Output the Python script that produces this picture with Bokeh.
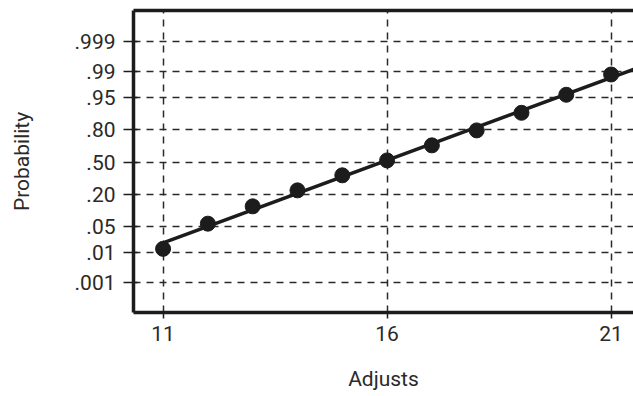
from statistics import NormalDist

import numpy as np
from bokeh.embed import file_html
from bokeh.models import FixedTicker, LinearAxis, Range1d
from bokeh.plotting import figure
from bokeh.resources import INLINE

# Observed adjust counts and their cumulative probabilities
adjusts = [11, 12, 13, 14, 15, 16, 17, 18, 19, 20, 21]
probability = [0.013, 0.057, 0.128, 0.234, 0.367, 0.517, 0.666, 0.792, 0.897, 0.958, 0.9877]

# Probability-scale ticks
prob_ticks = [0.001, 0.01, 0.05, 0.20, 0.50, 0.80, 0.95, 0.99, 0.999]
prob_labels = [".001", ".01", ".05", ".20", ".50", ".80", ".95", ".99", ".999"]
x_ticks = [11, 16, 21]

FONT = "Roboto"
INK = "#1c1c1c"
TEXT = "#2a2a2a"

nd = NormalDist()
z = [nd.inv_cdf(p) for p in probability]
z_ticks = [nd.inv_cdf(p) for p in prob_ticks]

x_start, x_end = 10.34, 21.5
p = figure(
    width=633, height=396,
    x_range=Range1d(x_start, x_end), y_range=Range1d(-3.86, 3.89),
    output_backend="svg", toolbar_location=None,
    min_border_left=133, min_border_right=0, min_border_top=10, min_border_bottom=84,
    outline_line_color=None, background_fill_color="white", border_fill_color="white",
)

# Axes
p.xaxis.ticker = FixedTicker(ticks=x_ticks)
p.yaxis.ticker = FixedTicker(ticks=z_ticks)
p.yaxis.major_label_overrides = {t: lab for t, lab in zip(z_ticks, prob_labels)}
p.xaxis.axis_label = "Adjusts"
p.yaxis.axis_label = "Probability"

for ax in (p.xaxis[0], p.yaxis[0]):
    ax.axis_line_width = 3.5
    ax.axis_line_color = INK
    ax.major_tick_line_color = INK
    ax.major_tick_line_width = 1.5
    ax.minor_tick_line_color = None
    ax.major_label_text_font = FONT
    ax.major_label_text_font_size = "21px"
    ax.major_label_text_color = TEXT
    ax.axis_label_text_font = FONT
    ax.axis_label_text_font_size = "21px"
    ax.axis_label_text_font_style = "normal"
    ax.axis_label_text_color = TEXT

p.yaxis.major_tick_out = 10
p.yaxis.major_tick_in = 4
p.yaxis.major_label_standoff = 8
p.yaxis.axis_label_standoff = 38
p.xaxis.major_tick_out = 6
p.xaxis.major_tick_in = 0
p.xaxis.major_label_standoff = 7
p.xaxis.axis_label_standoff = 23

top = LinearAxis(ticker=FixedTicker(ticks=[]), axis_line_width=3.5, axis_line_color=INK,
                 major_tick_line_color=None, minor_tick_line_color=None,
                 major_label_text_font_size="0px")
p.add_layout(top, "above")

# Dashed grid
for g in (p.xgrid[0], p.ygrid[0]):
    g.grid_line_color = "#2a2a2a"
    g.grid_line_width = 1.5
    g.grid_line_dash = "7 6"
p.xgrid.ticker = FixedTicker(ticks=x_ticks)
p.ygrid.ticker = FixedTicker(ticks=z_ticks)

# Least-squares fit on the normal scale
slope, icpt = np.polyfit(adjusts, z, 1)
fit_x = [adjusts[0], x_end]
fit_z = [icpt + slope * v for v in fit_x]
p.line(fit_x, fit_z, line_width=3.5, line_color=INK)

p.scatter(adjusts, z, size=15, marker="circle", fill_color=INK, line_color=INK)

open("out.html", "w").write(file_html(p, INLINE))
